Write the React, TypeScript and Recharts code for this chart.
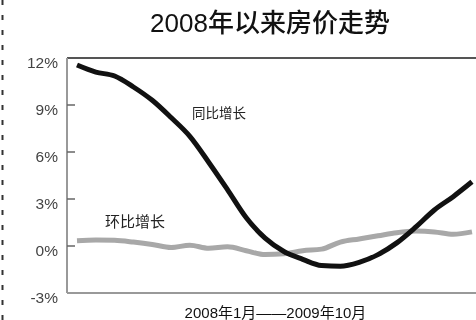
import React from "react";
import { LineChart, Line, XAxis, YAxis, ReferenceLine, Label } from "recharts";

const months = [
  "2008-01", "2008-02", "2008-03", "2008-04", "2008-05", "2008-06", "2008-07", "2008-08",
  "2008-09", "2008-10", "2008-11", "2008-12", "2009-01", "2009-02", "2009-03", "2009-04",
  "2009-05", "2009-06", "2009-07", "2009-08", "2009-09", "2009-10",
];
const yoyGrowth = [
  11.55, 11.1, 10.85, 10.15, 9.3, 8.2, 7.0, 5.35, 3.6, 1.8, 0.5, -0.35,
  -0.85, -1.25, -1.3, -1.05, -0.55, 0.2, 1.2, 2.3, 3.15, 4.1,
];
const momGrowth = [
  0.34, 0.38, 0.36, 0.25, 0.1, -0.1, 0.05, -0.15, -0.05, -0.3, -0.55, -0.5,
  -0.3, -0.2, 0.25, 0.45, 0.65, 0.85, 0.95, 0.9, 0.75, 0.9,
];
const yTicks = [-3, 0, 3, 6, 9, 12];

const title = "2008年以来房价走势";
const yoyLabel = "同比增长";
const momLabel = "环比增长";
const rangeLabel = "2008年1月——2009年10月";

const data = months.map((m, i) => ({ month: m, yoy: yoyGrowth[i], mom: momGrowth[i] }));

const FONT = '"Liberation Sans", "Noto Sans CJK SC", Arial, sans-serif';

const YTick = (props: any) => {
  const { x, y, payload } = props;
  const v = payload.value;
  const showMark = v !== 12 && v !== -3;
  return (
    <g>
      <text x={x} y={y} dy={10} textAnchor="end" fontSize={15.5} fill="#444" fontFamily={FONT}>
        {`${v}%`}
      </text>
      {showMark && <line x1={x + 9} x2={x + 17} y1={y} y2={y} stroke="#666" strokeWidth={1.5} />}
    </g>
  );
};

export default function App() {
  return (
    <div style={{ position: "fixed", left: 0, top: 0, width: 476, height: 320, background: "#fff", fontFamily: FONT }}>
      <svg width={6} height={320} style={{ position: "absolute", left: 0, top: 0 }}>
        <line x1={2.5} x2={2.5} y1={0} y2={320} stroke="#333" strokeWidth={2} strokeDasharray="5 10" />
      </svg>
      <div style={{ position: "absolute", left: 0, width: 540, top: 6, textAlign: "center", fontSize: 26, color: "#111", lineHeight: "34px", fontWeight: 500 }}>
        {title}
      </div>
      <div style={{ position: "absolute", left: 192, top: 105, fontSize: 13.5, color: "#222", lineHeight: "18px" }}>{yoyLabel}</div>
      <div style={{ position: "absolute", left: 105, top: 212, fontSize: 15, color: "#222", lineHeight: "20px" }}>{momLabel}</div>
      <LineChart width={476} height={320} data={data} margin={{ top: 58, right: 0, left: 0, bottom: 0 }} style={{ position: "absolute", left: 0, top: 0 }}>
        <XAxis dataKey="month" height={27} tick={false} tickLine={false} axisLine={{ stroke: "#999", strokeWidth: 2 }} padding={{ left: 10, right: 4 }}>
          <Label value={rangeLabel} position="insideBottom" offset={2} fontSize={15} fill="#111" fontFamily={FONT} dx={4} />
        </XAxis>
        <YAxis domain={[-3, 12]} ticks={yTicks} width={67} tickSize={0} tickMargin={9} tick={<YTick />} axisLine={{ stroke: "#999", strokeWidth: 2 }} interval={0} />
        <ReferenceLine y={12} stroke="#555" strokeWidth={2} />
        <Line dataKey="mom" type="monotone" stroke="#a8a8a8" strokeWidth={5} dot={false} isAnimationActive={false} />
        <Line dataKey="yoy" type="monotone" stroke="#111" strokeWidth={5} dot={false} isAnimationActive={false} />
      </LineChart>
    </div>
  );
}
